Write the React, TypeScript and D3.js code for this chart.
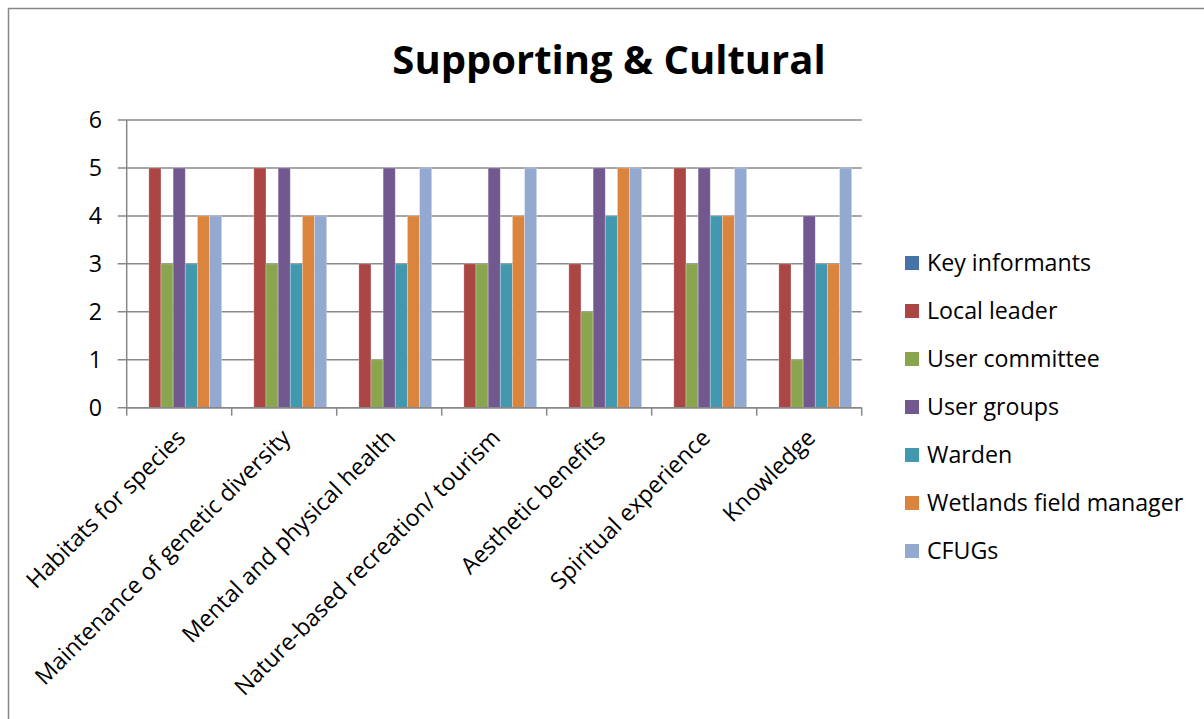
import React from "react";
import * as d3 from "d3";

const categories = [
  "Habitats for species",
  "Maintenance of genetic diversity",
  "Mental and physical health",
  "Nature-based recreation/ tourism",
  "Aesthetic benefits",
  "Spiritual experience",
  "Knowledge",
];
const seriesNames = [
  "Key informants",
  "Local leader",
  "User committee",
  "User groups",
  "Warden",
  "Wetlands field manager",
  "CFUGs",
];
const keyInformants = [0, 0, 0, 0, 0, 0, 0];
const localLeader = [5, 5, 3, 3, 3, 5, 3];
const userCommittee = [3, 3, 1, 3, 2, 3, 1];
const userGroups = [5, 5, 5, 5, 5, 5, 4];
const warden = [3, 3, 3, 3, 4, 4, 3];
const wetlandsFieldManager = [4, 4, 4, 4, 5, 4, 3];
const cfugs = [4, 4, 5, 5, 5, 5, 5];
const yTicks = [0, 1, 2, 3, 4, 5, 6];
const colors = ["#4572A7", "#AA4643", "#89A54E", "#71588F", "#4198AF", "#DB843D", "#93A9CF"];

const seriesValues = [keyInformants, localLeader, userCommittee, userGroups, warden, wetlandsFieldManager, cfugs];

const W = 1204;
const H = 719;
const plotLeft = 126.7;
const plotRight = 861.7;
const plotTop = 120;
const plotBottom = 407.7;
const FONT = "'Open Sans', sans-serif";
const FS = 23.2;

export default function App() {
  const x0 = d3.scaleBand<string>().domain(categories).range([plotLeft, plotRight]).padding(0);
  const bw = x0.bandwidth();
  const gapHalf = 10;
  const x1 = d3.scaleBand<string>().domain(seriesNames).range([gapHalf, bw - gapHalf]).padding(0);
  const y = d3.scaleLinear().domain([0, 6]).range([plotBottom, plotTop]);
  const boundaries = d3.range(categories.length + 1).map((i) => plotLeft + i * bw);

  return (
    <svg width={W} height={H} style={{ position: "absolute", left: 0, top: 0, background: "#fff" }}>
      <rect x={8.5} y={8.5} width={1400} height={900} fill="#fff" stroke="#878787" strokeWidth={1.5} />
      <text x={609} y={74} textAnchor="middle" fontFamily={FONT} fontWeight="bold" fontSize={40} fill="#000">
        Supporting &amp; Cultural
      </text>
      {yTicks.map((t) => (
        <line key={"g" + t} x1={plotLeft - 9} x2={plotRight} y1={y(t)} y2={y(t)} stroke="#888" strokeWidth={1.5} />
      ))}
      {categories.map((c, ci) => (
        <g key={c} transform={`translate(${x0(c)},0)`}>
          {seriesNames.map((s, si) => {
            const v = seriesValues[si][ci];
            return (
              <rect
                key={s}
                x={x1(s)}
                y={y(v)}
                width={x1.bandwidth()}
                height={plotBottom - y(v)}
                fill={colors[si]}
                stroke="#fff"
                strokeOpacity={0.35}
                strokeWidth={0.8}
              />
            );
          })}
        </g>
      ))}
      <line x1={plotLeft} x2={plotLeft} y1={plotTop} y2={plotBottom} stroke="#888" strokeWidth={1.5} />
      <line x1={plotLeft} x2={plotRight} y1={plotBottom} y2={plotBottom} stroke="#888" strokeWidth={1.5} />
      {boundaries.map((bx, i) => (
        <line key={"t" + i} x1={bx} x2={bx} y1={plotBottom} y2={plotBottom + 8} stroke="#888" strokeWidth={1.5} />
      ))}
      {yTicks.map((t) => (
        <text key={"yl" + t} x={102} y={y(t)} dy="0.36em" textAnchor="end" fontFamily={FONT} fontSize={FS} fill="#000">
          {t}
        </text>
      ))}
      {categories.map((c) => {
        const cx = (x0(c) as number) + bw / 2 - 4;
        const cy = plotBottom + 20;
        return (
          <text
            key={"xl" + c}
            transform={`translate(${cx},${cy}) rotate(-45)`}
            textAnchor="end"
            dy="0.7em"
            fontFamily={FONT}
            fontSize={FS}
            fill="#000"
          >
            {c}
          </text>
        );
      })}
      {seriesNames.map((s, i) => {
        const cy = 263 + i * 48;
        return (
          <g key={"lg" + s}>
            <rect x={905} y={cy - 7} width={14} height={14} fill={colors[i]} />
            <text x={927} y={cy} dy="0.36em" fontFamily={FONT} fontSize={FS} fill="#000">
              {s}
            </text>
          </g>
        );
      })}
    </svg>
  );
}
